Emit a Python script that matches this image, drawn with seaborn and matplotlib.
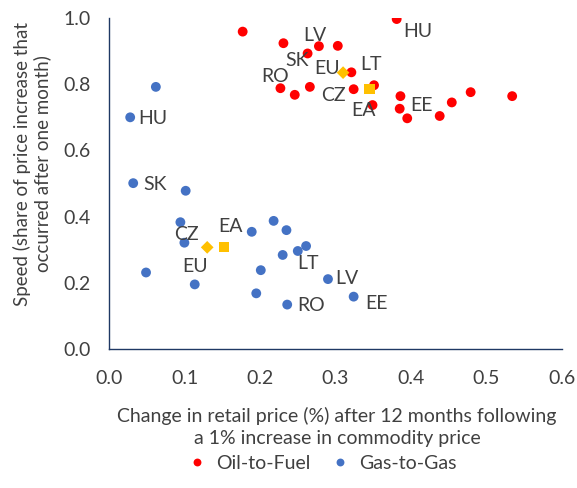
import pandas as pd
import numpy as np
import matplotlib
matplotlib.use('Agg')
import matplotlib.pyplot as plt
import seaborn as sns

# Oil-to-Fuel pass-through estimates (size x, speed y)
oil_x = [0.177, 0.381, 0.231, 0.278, 0.303, 0.263, 0.321, 0.227, 0.246, 0.266,
         0.324, 0.351, 0.386, 0.479, 0.534, 0.454, 0.349, 0.385, 0.395, 0.438]
oil_y = [0.959, 0.997, 0.924, 0.915, 0.916, 0.893, 0.836, 0.788, 0.768, 0.792,
         0.785, 0.797, 0.764, 0.776, 0.764, 0.745, 0.737, 0.726, 0.697, 0.704]

# Gas-to-Gas pass-through estimates
gas_x = [0.062, 0.028, 0.032, 0.1015, 0.0945, 0.0998, 0.049, 0.1135, 0.189, 0.218,
         0.235, 0.261, 0.250, 0.230, 0.201, 0.290, 0.195, 0.236, 0.324]
gas_y = [0.792, 0.700, 0.501, 0.478, 0.383, 0.321, 0.231, 0.195, 0.354, 0.387,
         0.359, 0.311, 0.296, 0.284, 0.238, 0.211, 0.168, 0.134, 0.158]

# aggregates: EU (diamond) and EA (square)
oil_eu = (0.310, 0.835)
oil_ea = (0.345, 0.785)
gas_eu = (0.130, 0.307)
gas_ea = (0.152, 0.308)

# labelled countries -> point index
oil_labels = {'HU': 1, 'LV': 3, 'SK': 5, 'LT': 6, 'RO': 7, 'CZ': 10, 'EE': 17}
gas_labels = {'HU': 1, 'SK': 2, 'CZ': 5, 'LT': 12, 'LV': 15, 'RO': 17, 'EE': 18}

# label offsets in pixels
oil_off = {'HU': (21, -12), 'LV': (-4, 11), 'SK': (-11, -7), 'LT': (20, 8),
           'RO': (-5, 12), 'CZ': (-20, -6), 'EE': (22, 3), 'EU': (-16, 4), 'EA': (-6, -21)}
gas_off = {'HU': (23, -1), 'SK': (22, -1), 'CZ': (2, 8), 'LT': (10, -13),
           'LV': (19, 1), 'RO': (24, -1), 'EE': (23, -7), 'EU': (-12, -19), 'EA': (7, 21)}

df = pd.DataFrame({
    'x': oil_x + gas_x,
    'y': oil_y + gas_y,
    'series': ['Oil-to-Fuel'] * len(oil_x) + ['Gas-to-Gas'] * len(gas_x),
})

sns.set_style('white')
plt.rcParams['font.family'] = ['Lato', 'DejaVu Sans']

fig = plt.figure(figsize=(5.77, 4.88), dpi=100)
ax = fig.add_axes([0.189, 0.285, 0.785, 0.678])

sns.scatterplot(data=df, x='x', y='y', hue='series',
                palette={'Oil-to-Fuel': '#FF0000', 'Gas-to-Gas': '#4472C4'},
                s=50, edgecolor='none', ax=ax, zorder=3)

agg = pd.DataFrame({'x': [oil_eu[0], gas_eu[0]], 'y': [oil_eu[1], gas_eu[1]]})
sns.scatterplot(data=agg, x='x', y='y', marker='D', color='#FFC000', s=42,
                edgecolor='none', ax=ax, legend=False, zorder=4)
agg2 = pd.DataFrame({'x': [oil_ea[0], gas_ea[0]], 'y': [oil_ea[1], gas_ea[1]]})
sns.scatterplot(data=agg2, x='x', y='y', marker='s', color='#FFC000', s=55,
                edgecolor='none', ax=ax, legend=False, zorder=4)

txt_col = '#404040'


def put_label(name, px, py, off):
    ax.annotate(name, (px, py), xytext=off, textcoords='offset pixels',
                ha='center', va='center', fontsize=14, color=txt_col, zorder=5)


for name, i in oil_labels.items():
    put_label(name, oil_x[i], oil_y[i], oil_off[name])
put_label('EU', oil_eu[0], oil_eu[1], oil_off['EU'])
put_label('EA', oil_ea[0], oil_ea[1], oil_off['EA'])

for name, i in gas_labels.items():
    put_label(name, gas_x[i], gas_y[i], gas_off[name])
put_label('EU', gas_eu[0], gas_eu[1], gas_off['EU'])
put_label('EA', gas_ea[0], gas_ea[1], gas_off['EA'])

ax.set_xlim(0, 0.6)
ax.set_ylim(0, 1.0)
ax.set_xticks(np.arange(0, 0.61, 0.1))
ax.set_yticks(np.arange(0, 1.01, 0.2))
ax.xaxis.set_major_formatter(matplotlib.ticker.FormatStrFormatter('%.1f'))
ax.yaxis.set_major_formatter(matplotlib.ticker.FormatStrFormatter('%.1f'))
ax.tick_params(labelsize=14, colors=txt_col, length=0)
ax.tick_params(axis='x', pad=15)
ax.tick_params(axis='y', pad=13)

for side in ['top', 'right']:
    ax.spines[side].set_visible(False)
for side in ['left', 'bottom']:
    ax.spines[side].set_color('#1F3864')
    ax.spines[side].set_linewidth(1.0)

ax.set_xlabel('Change in retail price (%) after 12 months following\na 1% increase in commodity price',
              fontsize=14, color=txt_col, va='center', linespacing=1.3)
ax.xaxis.set_label_coords(0.503, -0.236)
ax.set_ylabel('Speed (share of price increase that\noccurred after one month)',
              fontsize=13.5, color=txt_col, va='center', linespacing=1.2)
ax.yaxis.set_label_coords(-0.17, 0.56)

sns.move_legend(ax, 'center', bbox_to_anchor=(0.46, -0.345), ncol=2,
                frameon=False, title=None, fontsize=14, handletextpad=0.0,
                columnspacing=0.5, markerscale=0.8)
for t in ax.get_legend().get_texts():
    t.set_color(txt_col)

fig.savefig('out.png', dpi=100)
